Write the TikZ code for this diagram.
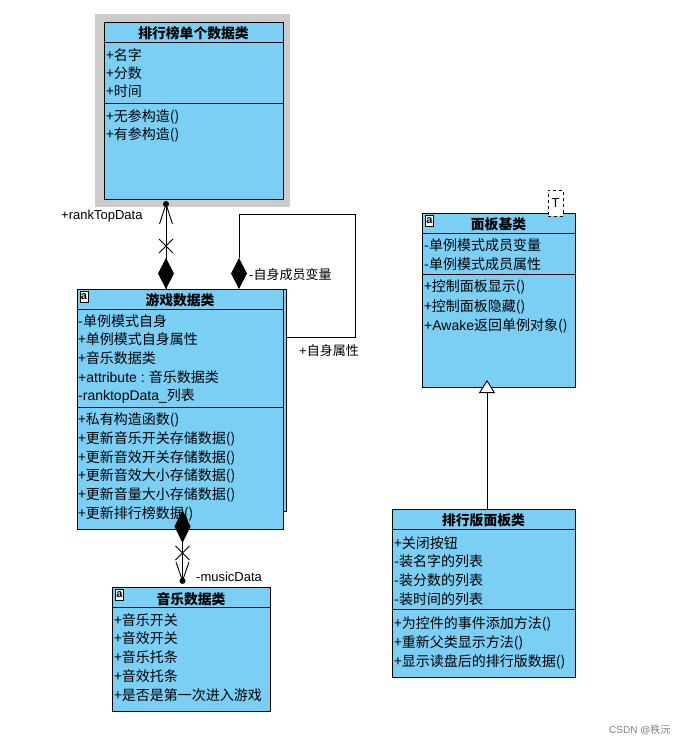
\documentclass[tikz,border=0pt]{standalone}
\usepackage{fontspec}
\setmainfont{Noto Sans CJK SC}
\newfontfamily\lat{Liberation Sans}
\usetikzlibrary{arrows.meta}

\definecolor{clsblue}{RGB}{122,207,245}
\definecolor{shadowgray}{RGB}{204,204,204}

\tikzset{
    cls/.style={draw, fill=clsblue, line width=0.9pt, anchor=north west, inner sep=0pt},
    clstitle/.style={font=\fontsize{13.8}{16}\selectfont\bfseries, inner sep=0pt},
    row/.style={font=\fontsize{14}{16}\selectfont, anchor=west, inner sep=0pt},
    lbl/.style={font=\fontsize{13}{15}\selectfont, anchor=west, inner sep=0pt},
    icon/.style={draw, fill=white, line width=0.8pt, inner sep=0pt, minimum width=8pt, minimum height=11pt, font=\lat\fontsize{11}{11}\selectfont\bfseries},
    link/.style={line width=0.9pt},
}

\begin{document}
\begin{tikzpicture}[x=1pt, y=-1pt]
    \useasboundingbox[fill=white] (0,0) rectangle (690,746);

    % ranking entry class
    \fill[shadowgray] (95,14) rectangle (290,207);
    \node[cls, minimum width=179pt, minimum height=177pt] (rank) at (104,22) {};
    \draw[link] (104,42) -- (283,42);
    \draw[link] (104,103) -- (283,103);
    \node[clstitle] (rankT) at (193.5,33) {排行榜单个数据类};
    \foreach \t [count=\i] in {+名字,+分数,+时间}
        \node[row] (rankA\i) at (106,{37+18*\i}) {\t};
    \foreach \t [count=\i] in {+无参构造(),+有参构造()}
        \node[row] (rankM\i) at (106,{99+18*\i}) {\t};

    % game data class
    \draw[fill=clsblue, line width=0.9pt] (80,289) rectangle (286,511);
    \node[cls, minimum width=206pt, minimum height=240pt] (game) at (76.5,289) {};
    \draw[link] (76.5,309) -- (282.5,309);
    \draw[link] (76.5,407) -- (282.5,407);
    \node[icon] (gameI) at (84,296.5) {a};
    \node[clstitle] (gameT) at (180,300) {游戏数据类};
    \foreach \t [count=\i] in {-单例模式自身,+单例模式自身属性,+音乐数据类,{{\lat +attribute :} 音乐数据类},{{\lat -ranktopData\_}列表}}
        \node[row] (gameA\i) at (78,{302+18.75*\i}) {\t};
    \foreach \t [count=\i] in {+私有构造函数(),+更新音乐开关存储数据(),+更新音效开关存储数据(),+更新音效大小存储数据(),+更新音量大小存储数据(),+更新排行榜数据()}
        \node[row] (gameM\i) at (78,{401.2+18.8*\i}) {\t};

    % music data class
    \node[cls, minimum width=158pt, minimum height=124pt] (music) at (112,587) {};
    \draw[link] (112,607.5) -- (270,607.5);
    \node[icon] (musicI) at (119.5,594.5) {a};
    \node[clstitle] (musicT) at (191,599) {音乐数据类};
    \foreach \t [count=\i] in {+音乐开关,+音效开关,+音乐托条,+音效托条,+是否是第一次进入游戏}
        \node[row] (musicA\i) at (114,{601+18.8*\i}) {\t};

    % panel base class
    \node[cls, minimum width=153pt, minimum height=174pt] (panel) at (422,213) {};
    \draw[link] (422,233) -- (575,233);
    \draw[link] (422,274) -- (575,274);
    \node[icon] (panelI) at (429.5,220.5) {a};
    \node[clstitle] (panelT) at (498.5,224) {面板基类};
    \node[draw, dashed, fill=white, line width=0.7pt, minimum width=15pt, minimum height=26pt, inner sep=0pt, font=\lat\fontsize{13}{13}\selectfont] (tmpl) at (555.5,203) {T};
    \foreach \t [count=\i] in {-单例模式成员变量,-单例模式成员属性}
        \node[row] (panelA\i) at (424,{225.5+19.5*\i}) {\t};
    \foreach \t [count=\i] in {+控制面板显示(),+控制面板隐藏(),{{\lat +Awake}返回单例对象()}}
        \node[row] (panelM\i) at (424,{267.5+19.5*\i}) {\t};

    % ranking panel class
    \node[cls, minimum width=183pt, minimum height=168pt] (rankPanel) at (392,509) {};
    \draw[link] (392,529) -- (575,529);
    \draw[link] (392,609) -- (575,609);
    \node[clstitle] (rankPanelT) at (483.5,520) {排行版面板类};
    \foreach \t [count=\i] in {+关闭按钮,-装名字的列表,-装分数的列表,-装时间的列表}
        \node[row] (rankPanelA\i) at (394,{524+18.8*\i}) {\t};
    \foreach \t [count=\i] in {+为控件的事件添加方法(),+重新父类显示方法(),+显示读盘后的排行版数据()}
        \node[row] (rankPanelM\i) at (394,{605+19*\i}) {\t};

    % rankTopData composition
    \coordinate (rtEnd) at (166,204);
    \coordinate (rtStart) at (166,289);
    \draw[link] (rtStart) -- (rtEnd);
    \fill (rtEnd) circle (3pt);
    \draw[link] (159.5,224) -- (rtEnd) -- (172.5,224);
    \draw[link] (159,239) -- (173,253) (159,253) -- (173,239);
    \fill (rtStart) -- (174,273.5) -- (166,258) -- (158,273.5) -- cycle;
    \node[lbl, font=\lat\fontsize{13}{15}\selectfont] (rtLbl) at (61,216) {+rankTopData};

    % self reference
    \coordinate (selfStart) at (239,289);
    \coordinate (selfEnd) at (286,337);
    \draw[link] (239,258) |- (355,214) |- (selfEnd);
    \fill (selfStart) -- (247,273.5) -- (239,258) -- (231,273.5) -- cycle;
    \node[lbl] (selfLbl1) at (249,275) {{\lat -}自身成员变量};
    \node[lbl] (selfLbl2) at (299,351) {{\lat +}自身属性};

    % musicData composition
    \coordinate (mdStart) at (182.5,510);
    \coordinate (mdEnd) at (182.5,581);
    \draw[link] (mdStart) -- (mdEnd);
    \fill (mdStart) -- (190.5,526.5) -- (182.5,543) -- (174.5,526.5) -- cycle;
    \draw[link] (175.5,546) -- (189.5,560) (175.5,560) -- (189.5,546);
    \draw[link] (176,562) -- (mdEnd) -- (189,562);
    \fill (mdEnd) circle (3pt);
    \node[lbl, font=\lat\fontsize{13}{15}\selectfont] (mdLbl) at (196,577) {-musicData};

    % inheritance
    \draw[link, -{Triangle[open, fill=white, length=13pt, width=16pt, line width=0.9pt]}] (rankPanel.north -| 487,0) -- (487,380);

    % watermark
    \node[lbl, text=gray, font=\fontsize{10}{12}\selectfont] (mark) at (609,730) {{\lat CSDN @}秩沅};
\end{tikzpicture}
\end{document}
